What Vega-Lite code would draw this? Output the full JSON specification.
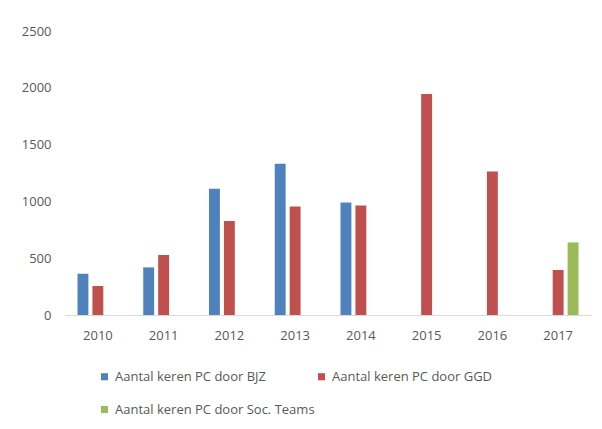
{
  "$schema": "https://vega.github.io/schema/vega-lite/v6.json",
  "autosize": "none",
  "width": 526,
  "height": 284,
  "padding": {"left": 65, "top": 31, "right": 11, "bottom": 114},
  "background": "white",
  "config": {
    "view": {"stroke": null},
    "font": "Open Sans",
    "axis": {"labelFont": "Open Sans", "labelColor": "#595959", "labelFontSize": 13},
    "legend": {"labelFont": "Open Sans", "labelColor": "#595959", "labelFontSize": 13, "labelLimit": 400}
  },
  "data": {
    "values": [
      {"jaar": "2010", "reeks": "Aantal keren  PC door BJZ", "aantal": 363},
      {"jaar": "2010", "reeks": "Aantal keren PC door GGD", "aantal": 255},
      {"jaar": "2011", "reeks": "Aantal keren  PC door BJZ", "aantal": 419},
      {"jaar": "2011", "reeks": "Aantal keren PC door GGD", "aantal": 528},
      {"jaar": "2012", "reeks": "Aantal keren  PC door BJZ", "aantal": 1111},
      {"jaar": "2012", "reeks": "Aantal keren PC door GGD", "aantal": 827},
      {"jaar": "2013", "reeks": "Aantal keren  PC door BJZ", "aantal": 1331},
      {"jaar": "2013", "reeks": "Aantal keren PC door GGD", "aantal": 955},
      {"jaar": "2014", "reeks": "Aantal keren  PC door BJZ", "aantal": 991},
      {"jaar": "2014", "reeks": "Aantal keren PC door GGD", "aantal": 964},
      {"jaar": "2015", "reeks": "Aantal keren PC door GGD", "aantal": 1946},
      {"jaar": "2016", "reeks": "Aantal keren PC door GGD", "aantal": 1263},
      {"jaar": "2017", "reeks": "Aantal keren PC door GGD", "aantal": 396},
      {"jaar": "2017", "reeks": "Aantal keren PC door Soc. Teams", "aantal": 639}
    ]
  },
  "mark": {"type": "bar"},
  "encoding": {
    "x": {
      "field": "jaar", "type": "nominal",
      "scale": {"paddingInner": 0.38, "paddingOuter": 0.19},
      "axis": {"title": null, "labelAngle": 0, "ticks": false, "domainColor": "#d9d9d9", "domainWidth": 1, "labelPadding": 14}
    },
    "xOffset": {
      "field": "reeks", "type": "nominal",
      "scale": {"domain": ["Aantal keren  PC door BJZ", "Aantal keren PC door GGD", "Aantal keren PC door Soc. Teams"], "paddingInner": 0.27, "paddingOuter": 0}
    },
    "y": {
      "field": "aantal", "type": "quantitative",
      "scale": {"domain": [0, 2500], "nice": false},
      "axis": {"title": null, "values": [0, 500, 1000, 1500, 2000, 2500], "format": "d", "grid": false, "domain": false, "ticks": false, "labelPadding": 14}
    },
    "color": {
      "field": "reeks", "type": "nominal",
      "scale": {"domain": ["Aantal keren  PC door BJZ", "Aantal keren PC door GGD", "Aantal keren PC door Soc. Teams"], "range": ["#4f81bd", "#c0504d", "#9bbb59"]},
      "legend": {
        "title": null, "orient": "none", "legendX": 33, "legendY": 339,
        "direction": "horizontal", "columns": 2, "columnPadding": -12, "rowPadding": 19,
        "symbolType": "square", "symbolSize": 50, "symbolStrokeWidth": 0, "labelOffset": 4
      }
    }
  }
}
